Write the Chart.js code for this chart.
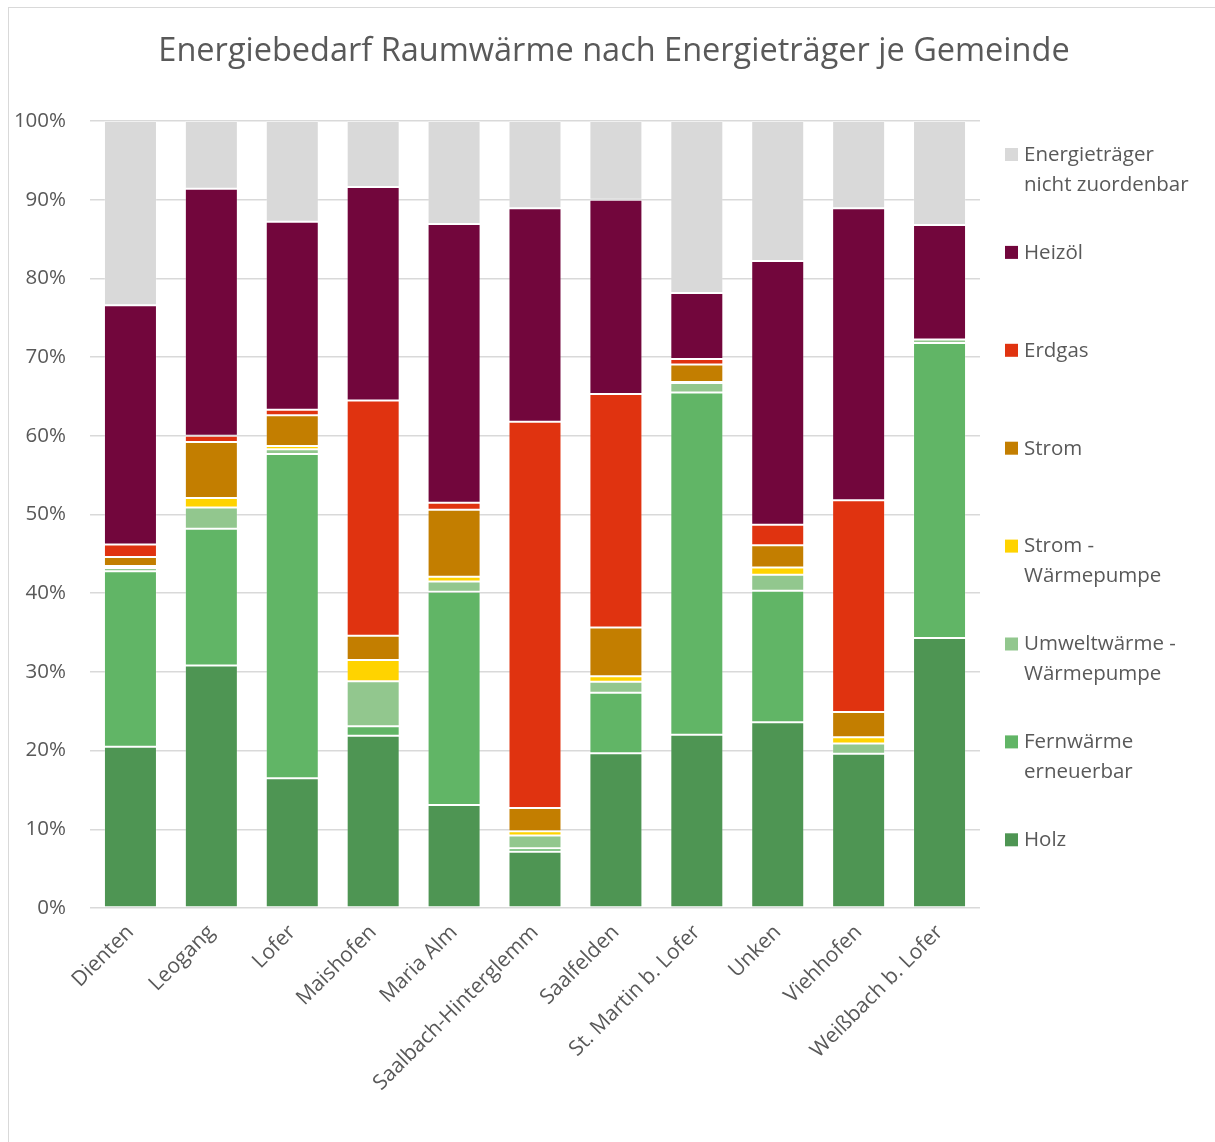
<!DOCTYPE html>
<html>
<head>
<meta charset="utf-8">
<script src="https://cdn.jsdelivr.net/npm/chart.js@4.4.0/dist/chart.umd.min.js"></script>
<style>
  html, body { margin: 0; padding: 0; background: #ffffff; overflow: hidden; }
  #wrap { position: relative; width: 1215px; height: 1142px; }
  #frame { position: absolute; left: 8px; top: 7px; width: 1230px; height: 1160px; border: 1.5px solid #d9d9d9; box-sizing: border-box; }
  canvas { position: absolute; left: 0; top: 0; }
</style>
</head>
<body>
<div id="wrap">
  <div id="frame"></div>
  <canvas id="c" width="1215" height="1142"></canvas>
</div>
<script>
const chartTitle = 'Energiebedarf Raumwärme nach Energieträger je Gemeinde';

const categories = ['Dienten', 'Leogang', 'Lofer', 'Maishofen', 'Maria Alm', 'Saalbach-Hinterglemm',
  'Saalfelden', 'St. Martin b. Lofer', 'Unken', 'Viehhofen', 'Weißbach b. Lofer'];

// Shares in percent (stack order bottom to top)
const holz        = [20.5, 30.8, 16.5, 21.9, 13.1,  7.15, 19.65, 22.0, 23.6, 19.6, 34.3];
const fernwaerme  = [22.3, 17.4, 41.2,  1.2, 27.1,  0.45,  7.7, 43.5, 16.7,  0.0, 37.5];
const umweltWP    = [ 0.4,  2.7,  0.6,  5.7,  1.3,  1.6,   1.4,  1.2,  2.05, 1.3,  0.45];
const stromWP     = [ 0.25, 1.2,  0.4,  2.7,  0.6,  0.55,  0.7,  0.15, 0.9,  0.8,  0.0];
const strom       = [ 1.15, 7.1,  3.9,  3.1,  8.5,  2.95,  6.2,  2.2,  2.85, 3.2,  0.0];
const erdgas      = [ 1.6,  0.8,  0.7, 29.9,  0.9, 49.1,  29.65, 0.7,  2.6, 26.9,  0.0];
const heizoel     = [30.4, 31.4, 23.9, 27.1, 35.4, 27.1,  24.7,  8.4, 33.5, 37.1, 14.55];
const nichtZuord  = [23.4,  8.6, 12.8,  8.4, 13.1, 11.1,  10.0, 21.85,17.8, 11.1, 13.2];

const yTicks = [0, 10, 20, 30, 40, 50, 60, 70, 80, 90, 100];

const seriesNames = ['Holz', 'Fernwärme erneuerbar', 'Umweltwärme - Wärmepumpe', 'Strom - Wärmepumpe',
  'Strom', 'Erdgas', 'Heizöl', 'Energieträger nicht zuordenbar'];
const seriesData = [holz, fernwaerme, umweltWP, stromWP, strom, erdgas, heizoel, nichtZuord];
const seriesColors = ['#4e9553', '#61b566', '#92c78e', '#ffd300', '#c37e00', '#e03310', '#72063c', '#d9d9d9'];
const legendLines = [['Holz'], ['Fernwärme', 'erneuerbar'], ['Umweltwärme -', 'Wärmepumpe'], ['Strom -', 'Wärmepumpe'],
  ['Strom'], ['Erdgas'], ['Heizöl'], ['Energieträger', 'nicht zuordenbar']];

const FONT = '"Open Sans", "DejaVu Sans", sans-serif';
const TXT = '#595959';

const datasets = seriesNames.map((name, i) => ({
  label: name,
  data: seriesData[i],
  backgroundColor: seriesColors[i],
  borderColor: 'rgba(255,255,255,0.2)',
  borderWidth: 1,
  borderSkipped: false,
  categoryPercentage: 1.0,
  barPercentage: 0.655
}));

const decorPlugin = {
  id: 'decor',
  afterDraw(chart) {
    const ctx = chart.ctx;
    ctx.save();
    // title
    ctx.fillStyle = TXT;
    ctx.font = '400 32.5px ' + FONT;
    ctx.textAlign = 'center';
    ctx.textBaseline = 'middle';
    ctx.fillText(chartTitle, 614, 52);
    // legend (reverse order)
    ctx.font = '400 20.5px ' + FONT;
    ctx.textAlign = 'left';
    const n = chart.data.datasets.length;
    for (let k = 0; k < n; k++) {
      const idx = n - 1 - k;
      const ds = chart.data.datasets[idx];
      const y0 = 155 + k * 97.9;
      ctx.fillStyle = ds.backgroundColor;
      ctx.fillRect(1005, y0 - 7, 13, 13);
      ctx.fillStyle = TXT;
      legendLines[idx].forEach((line, j) => {
        ctx.fillText(line, 1024, y0 + j * 30);
      });
    }
    ctx.restore();
  }
};

new Chart(document.getElementById('c'), {
  type: 'bar',
  data: { labels: categories, datasets },
  options: {
    responsive: false,
    animation: false,
    layout: { padding: { top: 121, right: 235, bottom: 0, left: 0 } },
    plugins: {
      legend: { display: false },
      title: { display: false },
      tooltip: { enabled: false }
    },
    scales: {
      x: {
        stacked: true,
        grid: { display: false, drawTicks: false },
        border: { display: false },
        ticks: {
          color: TXT,
          font: { family: FONT, size: 21 },
          minRotation: 45,
          maxRotation: 45,
          padding: 12,
          autoSkip: false
        },
        afterFit(scale) { scale.height = 234; }
      },
      y: {
        stacked: true,
        min: 0,
        max: 100,
        afterBuildTicks(scale) { scale.ticks = yTicks.map(v => ({ value: v })); },
        grid: { color: '#d9d9d9', lineWidth: 1.5, drawTicks: false },
        border: { display: false },
        ticks: {
          color: TXT,
          font: { family: FONT, size: 20.5 },
          padding: 24,
          callback: v => v + '%'
        },
        afterFit(scale) { scale.width = 90; }
      }
    }
  },
  plugins: [decorPlugin]
});
</script>
</body>
</html>
